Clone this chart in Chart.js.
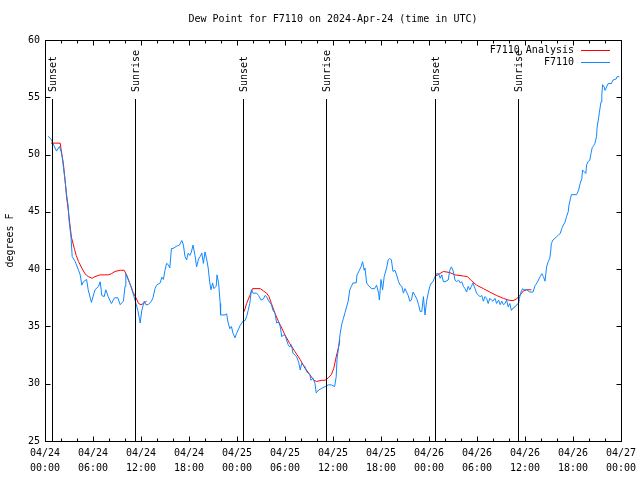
<!DOCTYPE html>
<html>
<head>
<meta charset="utf-8">
<script src="https://cdn.jsdelivr.net/npm/chart.js@4.4.1/dist/chart.umd.min.js"></script>
<style>
html,body{margin:0;padding:0;background:#fff;}
#wrap{width:640px;height:480px;}
</style>
</head>
<body>
<div id="wrap"><canvas id="c" width="640" height="480"></canvas></div>
<script>
// ---- data (hours since 2024-04-24 00:00 UTC) ----
const obsHours = [0.4,0.8,1.1,1.45,1.8,2.0,2.15,2.3,2.5,2.7,2.9,3.0,3.25,3.4,3.75,4.2,4.4,4.6,4.8,5.2,5.4,5.8,6.25,6.7,6.9,7.1,7.4,7.6,7.9,8.3,8.7,9.1,9.4,9.8,10.0,10.1,10.4,10.75,11.0,11.25,11.6,11.8,11.9,12.1,12.4,12.6,12.9,13.3,13.5,13.75,13.95,14.4,14.6,14.8,15.0,15.2,15.4,15.6,15.8,16.0,16.45,16.8,17.1,17.3,17.5,17.7,17.9,18.1,18.3,18.5,18.75,18.95,19.2,19.4,19.6,19.8,20.0,20.2,20.4,20.6,20.75,20.95,21.1,21.4,21.5,21.7,21.9,21.95,22.5,22.7,22.9,23.1,23.3,23.5,23.75,23.95,24.4,24.8,25.0,25.2,25.4,25.6,25.8,26.0,26.45,26.7,27.0,27.3,27.5,27.7,27.9,28.3,28.5,28.75,28.95,29.2,29.4,29.6,29.8,30.0,30.2,30.4,30.6,30.8,31.0,31.25,31.45,31.7,31.9,32.1,32.3,32.5,32.7,32.9,33.1,33.25,33.5,33.75,33.9,34.2,34.6,35.0,35.4,35.8,36.2,36.4,36.5,36.75,36.9,37.1,37.3,37.5,37.7,37.9,38.1,38.3,38.5,38.9,39.0,39.3,39.5,39.7,39.9,40.0,40.2,40.4,40.8,41.2,41.45,41.7,41.8,42.0,42.2,42.4,42.7,42.9,43.1,43.3,43.5,43.75,43.95,44.2,44.4,44.6,44.8,45.0,45.2,45.4,45.6,45.8,46.0,46.25,46.45,46.7,46.9,47.1,47.3,47.5,47.7,47.9,48.1,48.3,48.5,48.75,48.95,49.2,49.4,49.6,49.8,50.0,50.4,50.6,50.8,51.0,51.25,51.45,51.7,51.9,52.1,52.3,52.5,52.7,52.9,53.1,53.3,53.5,53.75,53.95,54.2,54.4,54.6,54.8,55.0,55.2,55.4,55.6,55.8,56.0,56.25,56.45,56.7,56.9,57.1,57.3,57.5,57.7,57.9,58.1,58.3,58.5,58.75,58.95,59.2,59.3,59.5,59.7,59.8,60.2,60.6,61.0,61.25,61.5,61.9,62.1,62.3,62.5,62.7,62.9,63.1,63.2,63.3,63.5,63.9,64.2,64.4,64.6,64.8,65.0,65.2,65.4,65.5,65.7,65.8,66.45,66.7,66.9,67.1,67.2,67.4,67.6,67.7,67.9,68.1,68.25,68.4,68.6,68.75,68.95,69.0,69.2,69.3,69.5,69.6,69.7,69.9,70.0,70.2,70.4,70.8,71.0,71.4,71.5,71.8];
const obsDew = [51.6,51.3,50.8,50.3,50.7,50.3,49.8,48.9,47.8,46.5,45.5,44.3,42.8,41.1,40.7,39.9,39.5,38.6,38.9,39.1,38.2,37.1,38.2,38.5,38.9,37.7,37.6,38.2,37.6,37.0,37.5,37.5,36.9,37.2,38.5,39.6,39.1,38.5,37.9,37.3,36.4,35.7,35.3,36.4,37.2,36.9,36.9,37.2,37.5,38.3,38.6,38.8,39.3,39.1,39.9,40.5,40.4,40.1,41.8,41.8,42.0,42.1,42.5,42.1,41.1,40.8,41.4,41.2,41.5,42.1,41.2,40.2,40.9,41.1,41.4,40.5,41.5,40.9,40.1,38.8,38.2,38.8,38.3,38.5,39.5,38.8,37.0,36.0,36.0,36.1,35.3,34.8,35.0,34.4,34.0,34.4,35.1,35.5,35.5,35.85,36.4,37.0,38.2,37.9,37.9,37.7,37.3,37.4,37.7,37.6,37.3,36.9,36.4,36.15,35.3,35.4,35.0,34.1,34.25,34.25,33.8,33.4,33.2,33.4,32.65,32.5,32.35,31.9,31.2,31.8,31.6,31.5,31.05,30.9,30.8,30.3,30.5,30.0,29.2,29.45,29.6,29.75,29.9,29.9,29.75,30.6,32.1,33.5,34.4,35.2,35.7,36.2,36.7,37.2,38.2,38.5,38.8,38.8,39.5,39.9,40.2,40.65,39.9,40.1,38.8,38.6,38.3,38.3,38.6,37.9,37.3,39.1,38.2,39.35,40.1,40.8,40.95,40.8,39.8,39.9,39.5,38.9,38.6,38.5,37.9,38.3,38.0,37.7,37.2,37.3,38.0,37.7,37.45,36.9,36.3,36.3,37.6,36.0,37.2,37.9,38.5,38.8,38.9,39.35,39.6,39.6,39.2,39.5,38.9,38.9,39.05,39.9,40.2,39.9,39.05,38.9,39.05,38.8,38.9,38.5,38.3,38.0,38.5,38.2,38.5,38.8,38.3,37.9,37.7,37.6,37.7,37.2,37.6,37.45,37.0,37.45,37.3,37.2,37.45,37.0,37.3,36.9,37.2,36.9,37.0,37.3,36.7,37.0,36.4,36.6,36.7,36.9,37.0,37.45,38.0,38.3,38.2,38.2,38.0,38.0,38.55,38.8,39.35,39.6,39.35,38.95,40.2,40.65,40.95,41.5,42.25,42.55,42.8,43.0,43.1,43.55,43.85,44.1,44.6,45.0,45.6,46.2,46.5,46.5,46.9,47.5,47.9,48.65,48.5,48.35,49.1,49.4,49.5,50.1,50.6,50.8,51.0,51.6,52.3,53.2,53.7,54.6,55.2,56.1,55.9,55.6,55.9,56.2,56.2,56.5,56.6,56.8,56.8];
const anaHours = [0.75,1.9,2.0,2.3,2.5,2.7,2.9,3.1,3.3,3.7,3.9,4.2,4.6,5.0,5.4,5.9,6.25,6.9,7.9,8.3,8.75,9.4,9.9,10.2,10.6,11.0,11.3,11.7,12.0,12.3,12.7,18.0,24.9,25.2,25.6,25.95,26.9,27.3,27.7,28.0,28.3,28.75,29.2,29.6,30.0,30.6,31.25,31.9,32.5,33.1,33.6,33.95,34.6,35.0,35.4,35.8,36.1,36.4,36.7,36.85,42.0,48.75,49.8,50.6,51.25,52.3,52.8,53.3,53.95,54.8,55.6,56.45,57.3,57.9,58.5,58.95,59.4,59.8,60.2,60.8];
const anaDew = [51.0,51.0,50.5,49.2,47.8,46.3,45.2,44.0,42.8,41.7,41.2,40.65,40.1,39.6,39.35,39.2,39.35,39.5,39.5,39.6,39.8,39.9,39.9,39.5,38.75,38.0,37.6,37.0,36.9,37.0,37.2,null,36.3,37.0,37.7,38.3,38.3,38.1,37.9,37.6,37.0,36.15,35.4,34.85,34.25,33.5,32.8,32.1,31.35,30.8,30.3,30.2,30.3,30.3,30.5,30.8,31.35,32.35,33.2,33.8,null,39.35,39.8,39.7,39.5,39.4,39.35,39.0,38.6,38.3,38.0,37.7,37.45,37.3,37.25,37.4,37.75,38.1,38.2,38.2];
const eventHours = [0.83, 11.3, 24.8, 35.15, 48.75, 59.15];
const eventLabels = ["Sunset","Sunrise","Sunset","Sunrise","Sunset","Sunrise"];
const xTickDates = ["04/24","04/24","04/24","04/24","04/25","04/25","04/25","04/25","04/26","04/26","04/26","04/26","04/27"];
const xTickTimes = ["00:00","06:00","12:00","18:00","00:00","06:00","12:00","18:00","00:00","06:00","12:00","18:00","00:00"];
const yTicks = [25,30,35,40,45,50,55,60];
const titleText = "Dew Point for F7110 on 2024-Apr-24 (time in UTC)";
const yTitle = "degrees F";
const seriesNames = ["F7110 Analysis","F7110"];
const seriesColors = ["#ff0000","#0f88ff"];

const FONT = "10px 'DejaVu Sans Mono', monospace";

const obsData = obsHours.map((h,i)=>({x:h,y:obsDew[i]}));
const anaData = anaHours.map((h,i)=>({x:h,y:anaDew[i]}));

const deco = {
  id:'deco',
  afterDatasetsDraw(chart){
    const ctx = chart.ctx, a = chart.chartArea, xs = chart.scales.x, ys = chart.scales.y;
    ctx.save();
    ctx.strokeStyle = '#000'; ctx.lineWidth = 1;
    // event lines
    eventHours.forEach((h,i)=>{
      const px = Math.round(xs.getPixelForValue(h))+0.5;
      ctx.beginPath(); ctx.moveTo(px, 99); ctx.lineTo(px, a.bottom); ctx.stroke();
      ctx.save();
      ctx.translate(px+1, 92);
      ctx.rotate(-Math.PI/2);
      ctx.font = FONT; ctx.fillStyle = '#000';
      ctx.textAlign = 'left'; ctx.textBaseline = 'middle';
      ctx.fillText(eventLabels[i], 0, 0);
      ctx.restore();
    });
    // border
    const L = Math.round(a.left)+0.5, R = Math.round(a.right)+0.5, T = Math.round(a.top)+0.5, B = Math.round(a.bottom)+0.5;
    ctx.strokeRect(L, T, R-L, B-T);
    // x ticks
    ctx.beginPath();
    for (let h = 0; h <= 72; h += 2) {
      const px = Math.round(xs.getPixelForValue(h))+0.5;
      const len = (h % 6 === 0) ? 5 : 3;
      ctx.moveTo(px, B); ctx.lineTo(px, B-len);
      ctx.moveTo(px, T); ctx.lineTo(px, T+len);
    }
    yTicks.forEach(v=>{
      const py = Math.round(ys.getPixelForValue(v))+0.5;
      ctx.moveTo(L, py); ctx.lineTo(L+5, py);
      ctx.moveTo(R, py); ctx.lineTo(R-5, py);
    });
    ctx.stroke();
    // title
    ctx.font = FONT; ctx.fillStyle = '#000';
    ctx.textAlign = 'center'; ctx.textBaseline = 'middle';
    ctx.fillText(titleText, (a.left+a.right)/2, 19);
    // y title
    ctx.save();
    ctx.translate(10, (a.top+a.bottom)/2);
    ctx.rotate(-Math.PI/2);
    ctx.textAlign = 'center'; ctx.textBaseline = 'middle';
    ctx.fillText(yTitle, 0, 0);
    ctx.restore();
    // legend
    const ly = [50, 62];
    seriesNames.forEach((n,i)=>{
      ctx.textAlign = 'right'; ctx.textBaseline = 'middle';
      ctx.fillStyle = '#000';
      ctx.fillText(n, 574, ly[i]);
      ctx.strokeStyle = seriesColors[i];
      ctx.beginPath(); ctx.moveTo(581, ly[i]+0.5); ctx.lineTo(610, ly[i]+0.5); ctx.stroke();
    });
    ctx.restore();
  }
};

new Chart(document.getElementById('c'), {
  type:'line',
  data:{
    datasets:[
      {label:seriesNames[0], data:anaData, borderColor:seriesColors[0], borderWidth:1, pointRadius:0, tension:0, spanGaps:false, order:1},
      {label:seriesNames[1], data:obsData, borderColor:seriesColors[1], borderWidth:1, pointRadius:0, tension:0, order:0}
    ]
  },
  options:{
    responsive:false, animation:false, events:[],
    layout:{padding:{left:0,right:19,top:40,bottom:0}},
    plugins:{legend:{display:false}, title:{display:false}, tooltip:{enabled:false}},
    scales:{
      x:{type:'linear', min:0, max:72,
        grid:{display:false, drawTicks:false}, border:{display:false},
        ticks:{stepSize:6, autoSkip:false, maxRotation:0, padding:5, color:'#000',
          font:{family:"'DejaVu Sans Mono', monospace", size:10, lineHeight:1.5},
          callback:(v)=>{ const i = Math.round(v/6); return [xTickDates[i], xTickTimes[i]]; }},
        afterFit:(s)=>{ s.height = 39; s.paddingLeft = 0; s.paddingRight = 0; }
      },
      y:{min:25, max:60,
        grid:{display:false, drawTicks:false}, border:{display:false},
        ticks:{stepSize:5, padding:5, color:'#000',
          font:{family:"'DejaVu Sans Mono', monospace", size:10}},
        afterFit:(s)=>{ s.width = 45; s.paddingTop = 0; s.paddingBottom = 0; }
      }
    }
  },
  plugins:[deco]
});
</script>
</body>
</html>
